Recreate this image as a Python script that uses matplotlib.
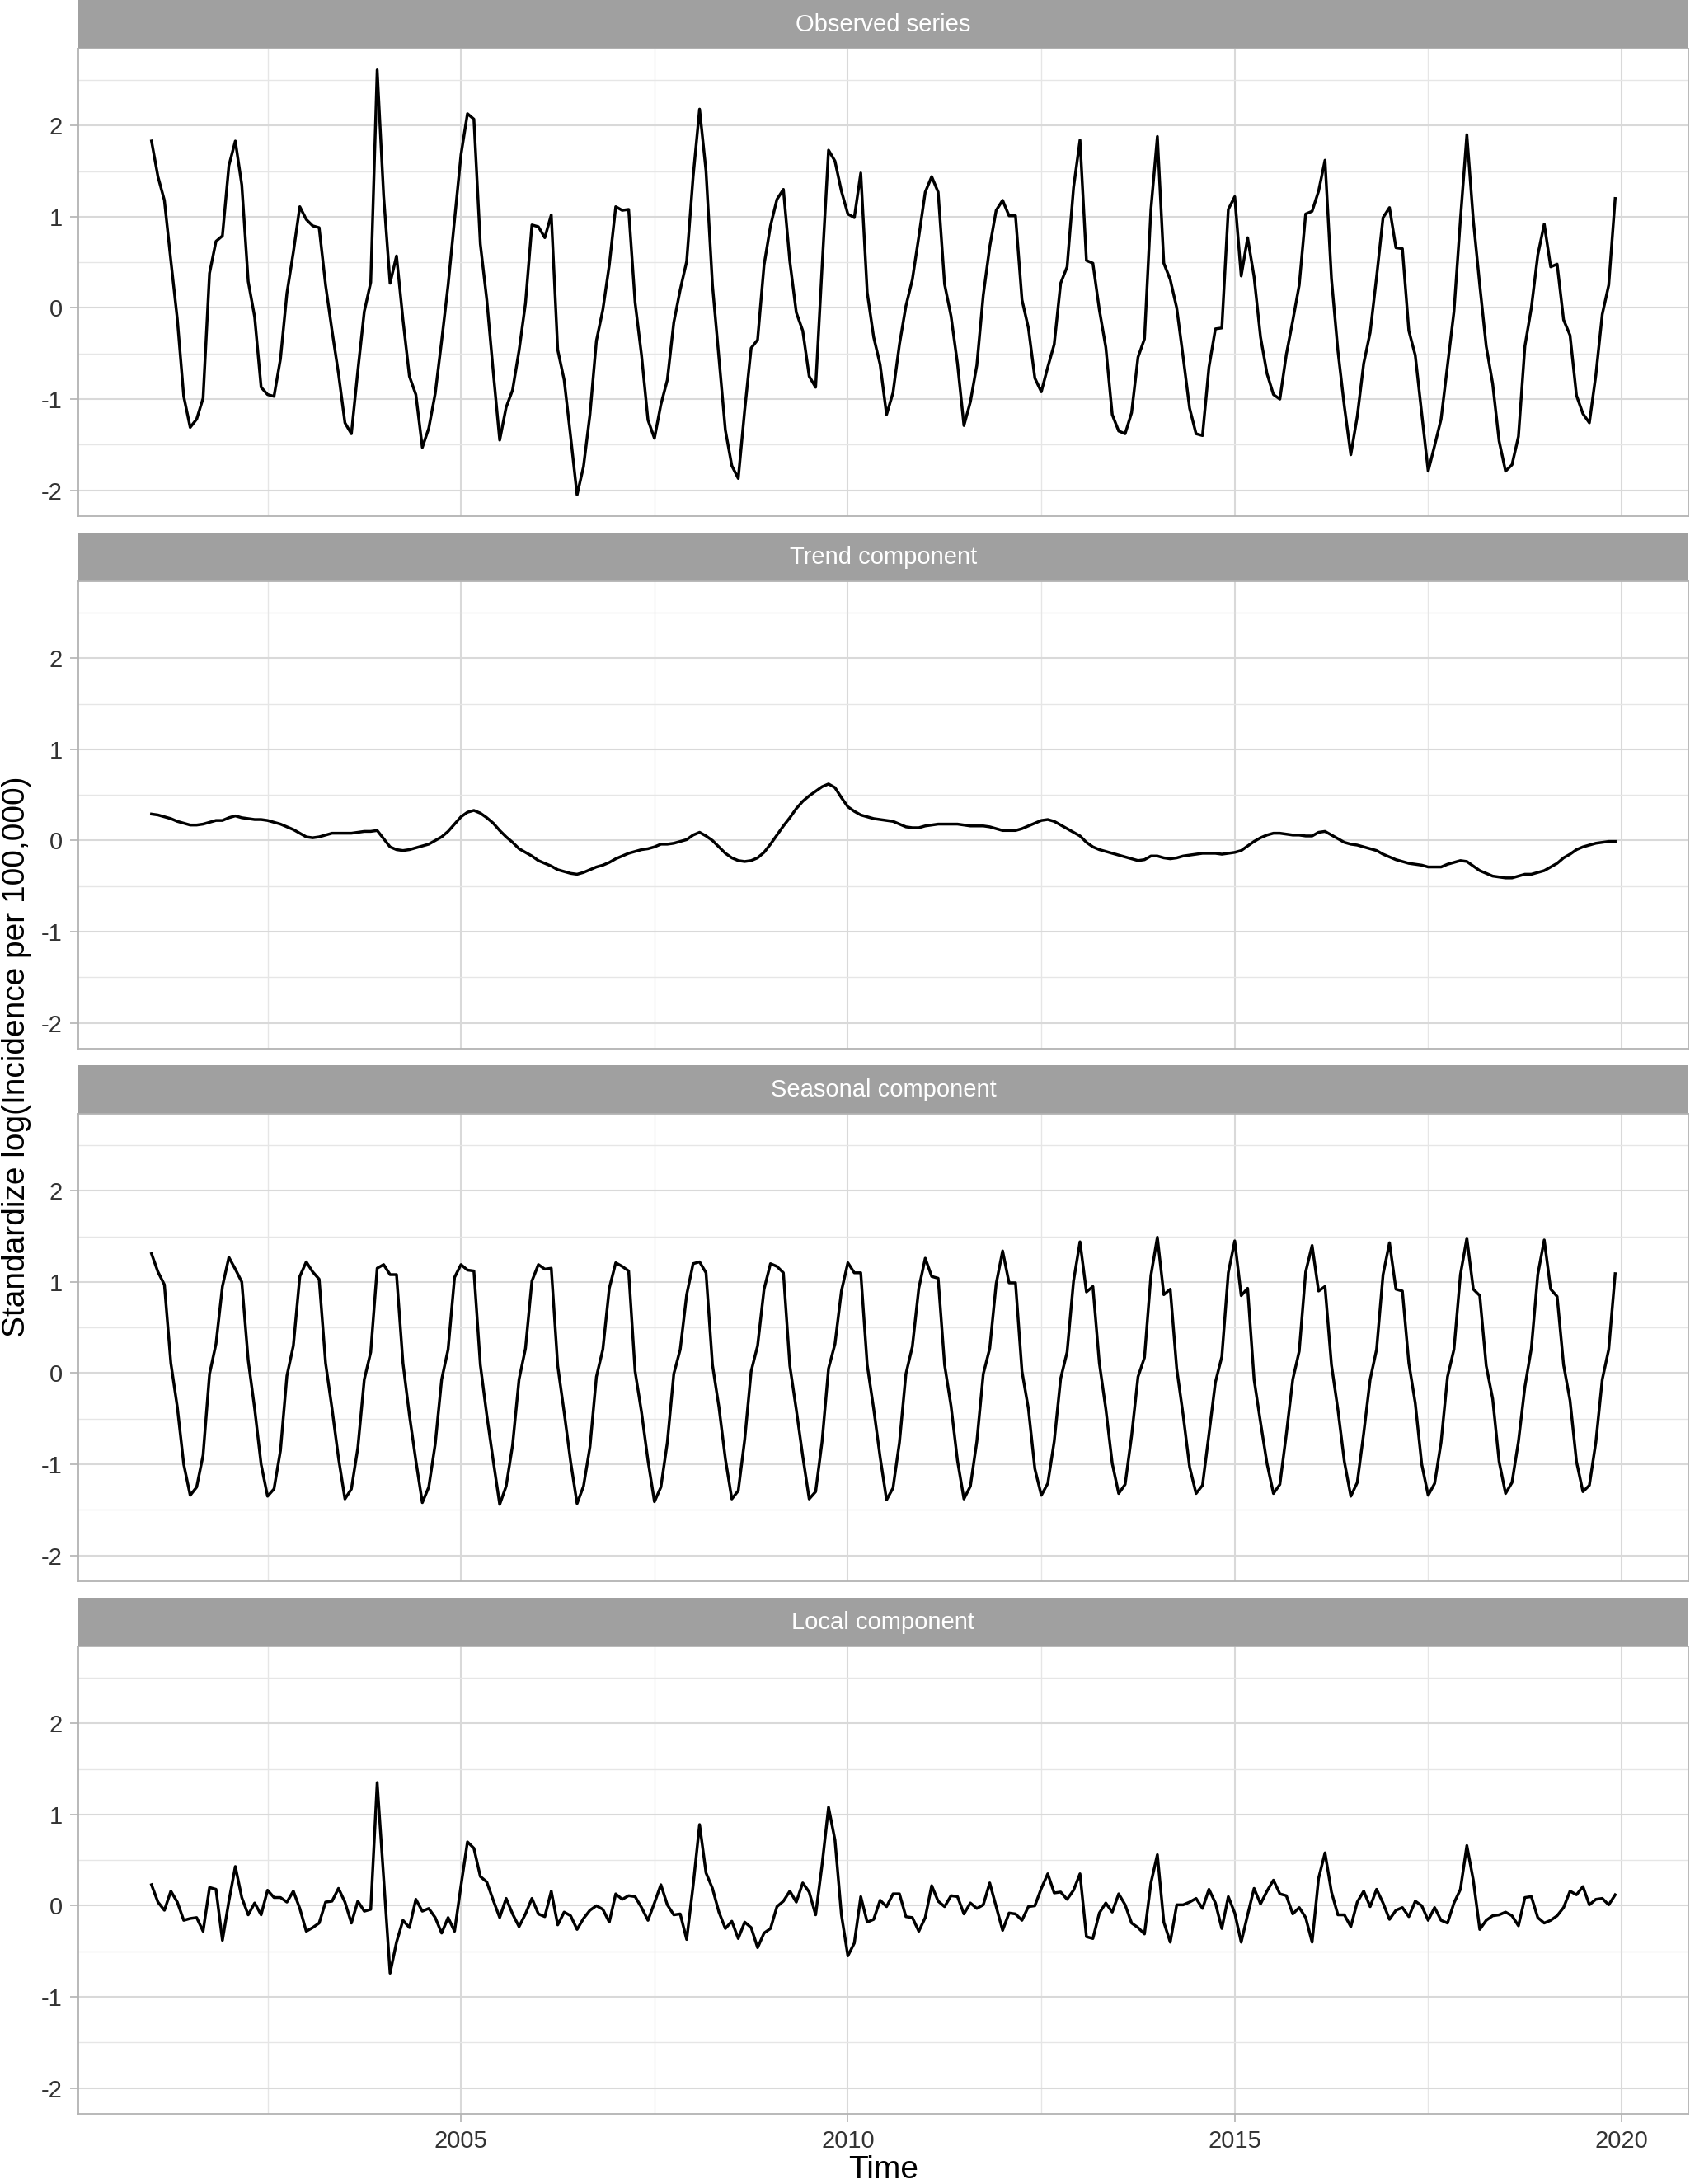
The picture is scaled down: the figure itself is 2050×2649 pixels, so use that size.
import numpy as np
import matplotlib
matplotlib.use('Agg')
import matplotlib.pyplot as plt

plt.rcParams['font.family'] = ['Liberation Sans', 'DejaVu Sans']

# monthly data, Jan 2001 - Dec 2019
start_year = 2001
panel_titles = ['Observed series', 'Trend component', 'Seasonal component', 'Local component']

observed = [
    1.83, 1.44, 1.18, 0.52, -0.12, -0.97, -1.31, -1.22, -0.99, 0.38,
    0.73, 0.79, 1.56, 1.83, 1.35, 0.29, -0.10, -0.87, -0.95, -0.97,
    -0.56, 0.16, 0.61, 1.11, 0.97, 0.90, 0.88, 0.25, -0.25, -0.72,
    -1.26, -1.38, -0.69, -0.04, 0.28, 2.61, 1.23, 0.27, 0.57, -0.13,
    -0.75, -0.95, -1.53, -1.32, -0.94, -0.36, 0.25, 0.96, 1.68, 2.13,
    2.07, 0.70, 0.09, -0.70, -1.45, -1.09, -0.90, -0.47, 0.05, 0.91,
    0.89, 0.77, 1.02, -0.46, -0.79, -1.41, -2.05, -1.74, -1.17, -0.36,
    -0.02, 0.47, 1.11, 1.07, 1.08, 0.06, -0.52, -1.23, -1.43, -1.06,
    -0.79, -0.16, 0.20, 0.51, 1.44, 2.18, 1.50, 0.25, -0.54, -1.34,
    -1.73, -1.87, -1.12, -0.44, -0.35, 0.47, 0.90, 1.19, 1.30, 0.51,
    -0.05, -0.25, -0.75, -0.87, 0.45, 1.73, 1.61, 1.28, 1.03, 0.99,
    1.48, 0.17, -0.32, -0.62, -1.17, -0.93, -0.40, 0.02, 0.31, 0.78,
    1.27, 1.44, 1.27, 0.26, -0.09, -0.61, -1.29, -1.03, -0.63, 0.14,
    0.67, 1.07, 1.18, 1.01, 1.01, 0.09, -0.22, -0.77, -0.92, -0.65,
    -0.40, 0.27, 0.45, 1.32, 1.84, 0.52, 0.49, -0.02, -0.43, -1.17,
    -1.35, -1.38, -1.15, -0.54, -0.34, 1.08, 1.88, 0.49, 0.31, 0.00,
    -0.54, -1.10, -1.38, -1.40, -0.65, -0.23, -0.22, 1.08, 1.22, 0.35,
    0.77, 0.34, -0.32, -0.72, -0.95, -1.00, -0.51, -0.14, 0.25, 1.03,
    1.06, 1.28, 1.62, 0.32, -0.47, -1.08, -1.61, -1.19, -0.61, -0.27,
    0.34, 0.99, 1.10, 0.66, 0.65, -0.25, -0.52, -1.16, -1.79, -1.51,
    -1.22, -0.63, -0.04, 0.97, 1.90, 0.96, 0.25, -0.42, -0.83, -1.46,
    -1.79, -1.72, -1.41, -0.42, 0.00, 0.58, 0.92, 0.45, 0.48, -0.13,
    -0.30, -0.96, -1.16, -1.26, -0.74, -0.07, 0.25, 1.20,
]

trend = [
    0.29, 0.28, 0.26, 0.24, 0.21, 0.19, 0.17, 0.17, 0.18, 0.20,
    0.22, 0.22, 0.25, 0.27, 0.25, 0.24, 0.23, 0.23, 0.22, 0.20,
    0.18, 0.15, 0.12, 0.08, 0.04, 0.03, 0.04, 0.06, 0.08, 0.08,
    0.08, 0.08, 0.09, 0.10, 0.10, 0.11, 0.02, -0.07, -0.10, -0.11,
    -0.10, -0.08, -0.06, -0.04, 0.00, 0.04, 0.10, 0.18, 0.26, 0.31,
    0.33, 0.30, 0.25, 0.19, 0.11, 0.04, -0.02, -0.09, -0.13, -0.17,
    -0.22, -0.25, -0.28, -0.32, -0.34, -0.36, -0.37, -0.35, -0.32, -0.29,
    -0.27, -0.24, -0.20, -0.17, -0.14, -0.12, -0.10, -0.09, -0.07, -0.04,
    -0.04, -0.03, -0.01, 0.01, 0.06, 0.09, 0.05, 0.00, -0.07, -0.14,
    -0.19, -0.22, -0.23, -0.22, -0.19, -0.13, -0.04, 0.06, 0.16, 0.25,
    0.35, 0.43, 0.49, 0.54, 0.59, 0.62, 0.58, 0.47, 0.37, 0.32,
    0.28, 0.26, 0.24, 0.23, 0.22, 0.21, 0.18, 0.15, 0.14, 0.14,
    0.16, 0.17, 0.18, 0.18, 0.18, 0.18, 0.17, 0.16, 0.16, 0.16,
    0.15, 0.13, 0.11, 0.11, 0.11, 0.13, 0.16, 0.19, 0.22, 0.23,
    0.21, 0.17, 0.13, 0.09, 0.05, -0.02, -0.07, -0.10, -0.12, -0.14,
    -0.16, -0.18, -0.20, -0.22, -0.21, -0.17, -0.17, -0.19, -0.20, -0.19,
    -0.17, -0.16, -0.15, -0.14, -0.14, -0.14, -0.15, -0.14, -0.13, -0.11,
    -0.06, -0.01, 0.03, 0.06, 0.08, 0.08, 0.07, 0.06, 0.06, 0.05,
    0.05, 0.09, 0.10, 0.06, 0.02, -0.02, -0.04, -0.05, -0.07, -0.09,
    -0.11, -0.15, -0.18, -0.21, -0.23, -0.25, -0.26, -0.27, -0.29, -0.29,
    -0.29, -0.26, -0.24, -0.22, -0.23, -0.28, -0.33, -0.36, -0.39, -0.40,
    -0.41, -0.41, -0.39, -0.37, -0.37, -0.35, -0.33, -0.29, -0.25, -0.19,
    -0.15, -0.10, -0.07, -0.05, -0.03, -0.02, -0.01, -0.01,
]

seasonal = [
    1.31, 1.11, 0.97, 0.11, -0.37, -1.00, -1.34, -1.25, -0.90, -0.01,
    0.32, 0.95, 1.27, 1.14, 1.00, 0.14, -0.39, -1.00, -1.35, -1.27,
    -0.85, -0.03, 0.30, 1.06, 1.22, 1.11, 1.03, 0.11, -0.39, -0.93,
    -1.38, -1.27, -0.82, -0.07, 0.23, 1.15, 1.19, 1.08, 1.08, 0.11,
    -0.46, -0.96, -1.42, -1.25, -0.78, -0.07, 0.26, 1.05, 1.19, 1.13,
    1.12, 0.09, -0.46, -0.96, -1.44, -1.24, -0.79, -0.07, 0.27, 1.01,
    1.19, 1.14, 1.15, 0.08, -0.43, -0.97, -1.43, -1.24, -0.81, -0.04,
    0.26, 0.93, 1.21, 1.17, 1.12, 0.02, -0.43, -0.96, -1.41, -1.25,
    -0.76, -0.01, 0.26, 0.86, 1.20, 1.22, 1.10, 0.09, -0.37, -0.94,
    -1.38, -1.29, -0.73, 0.02, 0.30, 0.92, 1.20, 1.17, 1.10, 0.08,
    -0.40, -0.91, -1.38, -1.30, -0.75, 0.05, 0.32, 0.90, 1.21, 1.10,
    1.10, 0.09, -0.39, -0.92, -1.39, -1.26, -0.76, -0.01, 0.29, 0.93,
    1.26, 1.06, 1.04, 0.09, -0.36, -0.96, -1.38, -1.24, -0.75, -0.01,
    0.27, 0.98, 1.34, 0.99, 0.99, 0.02, -0.39, -1.05, -1.34, -1.21,
    -0.75, -0.06, 0.23, 1.01, 1.44, 0.89, 0.95, 0.11, -0.39, -0.99,
    -1.32, -1.22, -0.69, -0.04, 0.17, 1.07, 1.49, 0.86, 0.92, 0.05,
    -0.46, -1.03, -1.32, -1.23, -0.67, -0.10, 0.18, 1.10, 1.45, 0.85,
    0.93, -0.07, -0.54, -0.99, -1.32, -1.22, -0.67, -0.07, 0.24, 1.11,
    1.40, 0.90, 0.95, 0.09, -0.40, -0.97, -1.35, -1.20, -0.66, -0.07,
    0.26, 1.08, 1.43, 0.92, 0.90, 0.11, -0.33, -1.00, -1.34, -1.21,
    -0.76, -0.04, 0.26, 1.08, 1.48, 0.92, 0.85, 0.08, -0.28, -0.97,
    -1.32, -1.20, -0.75, -0.15, 0.27, 1.08, 1.46, 0.92, 0.84, 0.09,
    -0.30, -0.97, -1.30, -1.23, -0.76, -0.07, 0.26, 1.09,
]

local = [
    0.23, 0.04, -0.05, 0.16, 0.04, -0.16, -0.14, -0.13, -0.28, 0.20,
    0.18, -0.38, 0.05, 0.43, 0.09, -0.10, 0.03, -0.10, 0.17, 0.09,
    0.09, 0.04, 0.16, -0.03, -0.28, -0.24, -0.19, 0.04, 0.05, 0.19,
    0.04, -0.19, 0.05, -0.06, -0.04, 1.35, 0.30, -0.74, -0.40, -0.16,
    -0.24, 0.07, -0.06, -0.03, -0.13, -0.30, -0.13, -0.28, 0.22, 0.70,
    0.63, 0.32, 0.26, 0.06, -0.13, 0.08, -0.09, -0.23, -0.09, 0.08,
    -0.09, -0.12, 0.16, -0.21, -0.07, -0.11, -0.26, -0.14, -0.05, 0.00,
    -0.04, -0.18, 0.13, 0.07, 0.11, 0.10, -0.02, -0.16, 0.03, 0.23,
    0.01, -0.10, -0.09, -0.37, 0.22, 0.89, 0.36, 0.19, -0.07, -0.25,
    -0.17, -0.36, -0.18, -0.24, -0.46, -0.30, -0.25, -0.01, 0.05, 0.16,
    0.04, 0.25, 0.15, -0.10, 0.45, 1.08, 0.72, -0.10, -0.55, -0.41,
    0.10, -0.18, -0.15, 0.06, -0.01, 0.13, 0.13, -0.12, -0.13, -0.28,
    -0.13, 0.22, 0.05, -0.01, 0.11, 0.10, -0.09, 0.03, -0.03, 0.01,
    0.25, -0.01, -0.27, -0.08, -0.09, -0.16, -0.01, 0.00, 0.19, 0.35,
    0.14, 0.15, 0.07, 0.17, 0.35, -0.34, -0.36, -0.08, 0.03, -0.07,
    0.13, 0.01, -0.19, -0.24, -0.31, 0.25, 0.56, -0.18, -0.40, 0.01,
    0.01, 0.04, 0.08, -0.03, 0.18, 0.03, -0.25, 0.10, -0.08, -0.40,
    -0.10, 0.19, 0.02, 0.16, 0.28, 0.13, 0.11, -0.09, -0.02, -0.13,
    -0.40, 0.30, 0.58, 0.15, -0.10, -0.10, -0.23, 0.04, 0.16, -0.01,
    0.18, 0.03, -0.15, -0.05, -0.02, -0.12, 0.05, 0.00, -0.16, -0.02,
    -0.16, -0.19, 0.03, 0.18, 0.66, 0.28, -0.26, -0.16, -0.11, -0.10,
    -0.07, -0.11, -0.22, 0.09, 0.10, -0.13, -0.19, -0.16, -0.11, -0.02,
    0.16, 0.12, 0.21, 0.01, 0.07, 0.08, 0.01, 0.12,
]

series = [observed, trend, seasonal, local]
time = start_year + np.arange(len(observed)) / 12.0

# ggplot-like 5% expansion, shared scales
tspan = time[-1] - time[0]
xlim = (time[0] - 0.05 * tspan, time[-1] + 0.05 * tspan)
allv = np.concatenate([np.array(s) for s in series])
vspan = allv.max() - allv.min()
ylim = (allv.min() - 0.05 * vspan, allv.max() + 0.05 * vspan)

W, H = 2050, 2649
fig = plt.figure(figsize=(W / 100, H / 100), dpi=100)

left, right = 95, 2048
strip_h, panel_h, gap = 59, 567, 20

for k, (name, vals) in enumerate(zip(panel_titles, series)):
    top = k * (strip_h + panel_h + gap)
    # strip
    sax = fig.add_axes([left / W, 1 - (top + strip_h) / H, (right - left) / W, strip_h / H])
    sax.set_facecolor('#a0a0a0')
    sax.set_xticks([])
    sax.set_yticks([])
    for sp in sax.spines.values():
        sp.set_visible(False)
    sax.text(0.5, 0.5, name, color='white', fontsize=21, ha='center', va='center',
             transform=sax.transAxes)

    # panel
    pb = top + strip_h + panel_h
    ax = fig.add_axes([left / W, 1 - pb / H, (right - left) / W, panel_h / H])
    ax.plot(time, vals, color='black', lw=2.5)
    ax.set_xlim(xlim)
    ax.set_ylim(ylim)
    ax.set_yticks([-2, -1, 0, 1, 2])
    ax.set_yticklabels(['-2', '-1', '0', '1', '2'])
    ax.set_yticks([-1.5, -0.5, 0.5, 1.5, 2.5], minor=True)
    ax.set_xticks([2005, 2010, 2015, 2020])
    ax.set_xticks([2002.5, 2007.5, 2012.5, 2017.5], minor=True)
    ax.grid(which='major', color='#d9d9d9', lw=1.5)
    ax.grid(which='minor', color='#e6e6e6', lw=1.0)
    ax.set_axisbelow(True)
    ax.tick_params(which='minor', length=0)
    ax.tick_params(which='major', length=7, width=1.2, color='#b3b3b3',
                   labelsize=21, labelcolor='#333333', pad=7)
    if k < 3:
        ax.tick_params(axis='x', which='major', length=0, labelbottom=False)
    for sp in ax.spines.values():
        sp.set_color('#b3b3b3')
        sp.set_linewidth(1.3)

fig.text(20 / W, 1 - 1282 / H, 'Standardize log(Incidence per 100,000)', rotation=90,
         ha='center', va='center', fontsize=28)
fig.text((left + right) / 2 / W, 1 - 2632 / H, 'Time', ha='center', va='center', fontsize=28)

fig.savefig('out.png', dpi=100)
